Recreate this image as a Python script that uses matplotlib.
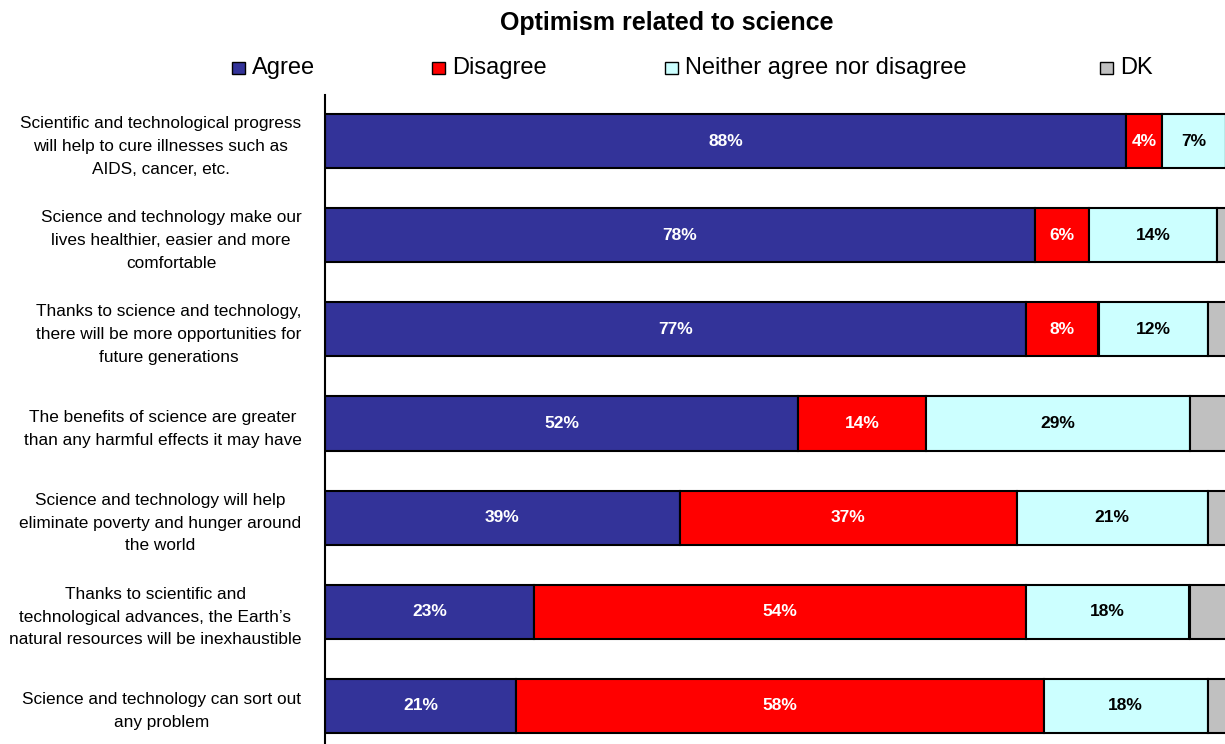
import matplotlib.pyplot as plt
import numpy as np
from matplotlib.patches import Rectangle

plt.rcParams['font.family'] = ['Liberation Sans', 'DejaVu Sans']

statements = [
    "Scientific and technological progress\nwill help to cure illnesses such as\nAIDS, cancer, etc.",
    "Science and technology make our\nlives healthier, easier and more\ncomfortable",
    "Thanks to science and technology,\nthere will be more opportunities for\nfuture generations",
    "The benefits of science are greater\nthan any harmful effects it may have",
    "Science and technology will help\neliminate poverty and hunger around\nthe world",
    "Thanks to scientific and\ntechnological advances, the Earth\u2019s\nnatural resources will be inexhaustible",
    "Science and technology can sort out\nany problem",
]
agree = [88, 78, 77, 52, 39, 23, 21]
disagree = [4, 6, 8, 14, 37, 54, 58]
neither = [7, 14, 12, 29, 21, 18, 18]
dk = [1, 2, 3, 5, 3, 5, 3]

series = [
    ("Agree", agree, "#333399", "white"),
    ("Disagree", disagree, "#FF0000", "white"),
    ("Neither agree nor disagree", neither, "#CCFFFF", "black"),
    ("DK", dk, "#C0C0C0", None),
]

fig = plt.figure(figsize=(12.25, 7.44), dpi=100)
ax = fig.add_axes([325 / 1225, 0.0, 900 / 1225, 1 - 95 / 744])

y = np.arange(len(statements))
left = np.zeros(len(statements))
for name, vals, color, tcolor in series:
    vals = np.array(vals, dtype=float)
    ax.barh(y, vals, left=left, height=0.575, color=color,
            edgecolor="black", linewidth=1.5, label=name)
    if tcolor:
        for yi, l, v in zip(y, left, vals):
            ax.text(l + v / 2, yi, "%d%%" % v, ha="center", va="center",
                    color=tcolor, fontsize=12.5, fontweight="bold")
    left += vals

ax.set_xlim(0, 900 / 9.1)
ax.set_ylim(6 + 38 / 94, -46 / 94)
ax.set_yticks(y)
ax.set_yticklabels(statements, fontsize=12.4, ha="right", multialignment="center",
                   linespacing=1.65)
ax.tick_params(axis="y", length=0, pad=17)
ax.set_xticks([])
for s in ["top", "right", "bottom"]:
    ax.spines[s].set_visible(False)
ax.spines["left"].set_linewidth(1.5)

fig.text(667 / 1225, 1 - 23 / 744, "Optimism related to science", ha="center",
         va="center", fontsize=18, fontweight="bold")

# legend entries placed by hand, like the original layout
legend_x = [232, 432, 665, 1100]
ly = 1 - 68 / 744
for (name, _, color, _), lx in zip(series, legend_x):
    fig.patches.append(Rectangle((lx / 1225, ly - 6 / 744), 13 / 1225, 12 / 744,
                                 facecolor=color, edgecolor="black", linewidth=1,
                                 transform=fig.transFigure))
    fig.text((lx + 20) / 1225, ly, name, ha="left", va="center", fontsize=17)

fig.savefig("out.png", dpi=100)
